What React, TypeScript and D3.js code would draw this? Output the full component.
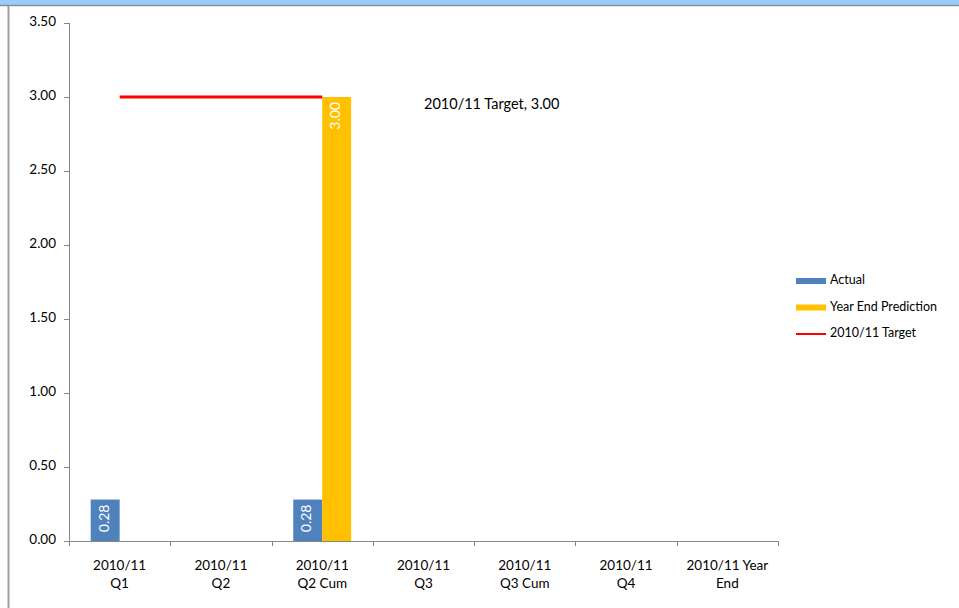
import React from 'react';
import * as d3 from 'd3';

const categories = [
  ['2010/11', 'Q1'],
  ['2010/11', 'Q2'],
  ['2010/11', 'Q2 Cum'],
  ['2010/11', 'Q3'],
  ['2010/11', 'Q3 Cum'],
  ['2010/11', 'Q4'],
  ['2010/11 Year', 'End'],
];
const actual: (number | null)[] = [0.28, null, 0.28, null, null, null, null];
const yearEnd: (number | null)[] = [null, null, 3.0, null, null, null, null];
const target: (number | null)[] = [3.0, 3.0, 3.0, null, null, null, null];
const yTicks = [0, 0.5, 1, 1.5, 2, 2.5, 3, 3.5];

const W = 959;
const H = 608;
const font = 'Lato, "Open Sans", sans-serif';

const App: React.FC = () => {
  const left = 69, right = 778, top = 23, bottom = 541;
  const y = d3.scaleLinear().domain([0, 3.5]).range([bottom, top]);
  const x = d3.scaleBand<number>().domain(d3.range(categories.length)).range([left, right]);
  const bw = x.bandwidth() / 3.5;
  const cx = (i: number) => (x(i) as number) + x.bandwidth() / 2;

  const line = d3.line<[number, number | null]>()
    .defined(d => d[1] !== null)
    .x(d => cx(d[0]))
    .y(d => y(d[1] as number));

  const bars: { i: number; v: number; off: number; color: string }[] = [];
  actual.forEach((v, i) => { if (v !== null) bars.push({ i, v, off: -bw, color: '#4F81BD' }); });
  yearEnd.forEach((v, i) => { if (v !== null) bars.push({ i, v, off: 0, color: '#FFC000' }); });

  const legend = [
    { name: 'Actual', type: 'bar', color: '#4F81BD' },
    { name: 'Year End Prediction', type: 'bar', color: '#FFC000' },
    { name: '2010/11 Target', type: 'line', color: '#FF0000' },
  ];

  return (
    <div style={{ position: 'fixed', left: 0, top: 0 }}>
      <svg width={W} height={H} style={{ display: 'block', background: '#fff' }}>
        <rect x={0} y={0} width={W} height={5} fill="#99CCFF" />
        <line x1={0} x2={W} y1={5.5} y2={5.5} stroke="#8E8E8E" strokeWidth={1.5} />
        <line x1={8.5} x2={8.5} y1={6} y2={H} stroke="#A0A0A0" strokeWidth={2} />

        {/* y axis */}
        <line x1={left + 0.5} x2={left + 0.5} y1={top} y2={bottom} stroke="#868686" />
        {yTicks.map(t => (
          <g key={t}>
            <line x1={left - 5} x2={left} y1={Math.round(y(t)) + 0.5} y2={Math.round(y(t)) + 0.5} stroke="#868686" />
            <text x={56} y={y(t)} textAnchor="end" dominantBaseline="middle" fontFamily={font} fontSize={13.5} fill="#000">
              {t.toFixed(2)}
            </text>
          </g>
        ))}

        {/* x axis */}
        <line x1={left} x2={right} y1={bottom + 0.5} y2={bottom + 0.5} stroke="#868686" />
        {d3.range(categories.length + 1).map(i => {
          const xx = Math.round(left + i * x.step()) + 0.5;
          return <line key={i} x1={xx} x2={xx} y1={bottom} y2={bottom + 5} stroke="#868686" />;
        })}
        {categories.map((c, i) => (
          <text key={i} x={cx(i)} y={570} textAnchor="middle" fontFamily={font} fontSize={13.5} fill="#000">
            <tspan x={cx(i)} dy={0}>{c[0]}</tspan>
            <tspan x={cx(i)} dy={18}>{c[1]}</tspan>
          </text>
        ))}

        {/* bars */}
        {bars.map((b, k) => {
          const bx = cx(b.i) + b.off;
          const mid = bx + bw / 2;
          const ty = y(b.v) + 5;
          return (
            <g key={k}>
              <rect x={bx} y={y(b.v)} width={bw} height={bottom - y(b.v)} fill={b.color} />
              <text transform={`translate(${mid},${ty}) rotate(-90)`} textAnchor="end" dominantBaseline="middle"
                fontFamily={font} fontSize={14} fill="#fff">
                {b.v.toFixed(2)}
              </text>
            </g>
          );
        })}

        {/* target line */}
        <path d={line(target.map((v, i) => [i, v] as [number, number | null])) || ''} fill="none" stroke="#FF0000" strokeWidth={3} />
        <text x={424} y={105} dominantBaseline="middle" fontFamily={font} fontSize={14.5} fill="#000">
          2010/11 Target, 3.00
        </text>

        {/* legend */}
        {legend.map((l, i) => {
          const ly = 281 + i * 26.5;
          return (
            <g key={l.name}>
              {l.type === 'bar'
                ? <rect x={796} y={ly - 3} width={30} height={6} fill={l.color} />
                : <line x1={796} x2={826} y1={ly} y2={ly} stroke={l.color} strokeWidth={2} />}
              <text x={830} y={ly} dominantBaseline="middle" fontFamily={font} fontSize={12.5} fill="#000">{l.name}</text>
            </g>
          );
        })}
      </svg>
    </div>
  );
};

export default App;
